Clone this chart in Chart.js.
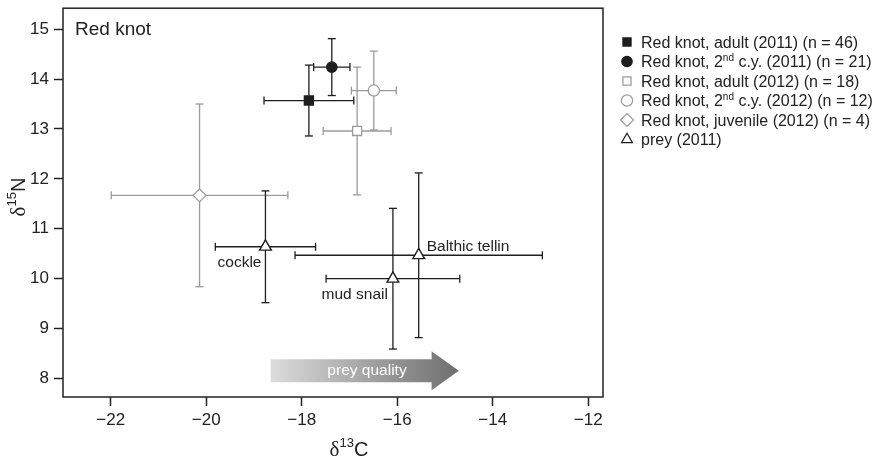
<!DOCTYPE html>
<html lang="en">
<head>
<meta charset="UTF-8">
<title>Red knot - stable isotopes</title>
<script src="https://cdn.jsdelivr.net/npm/chart.js@4"></script>
<style>
    html, body { margin: 0; padding: 0; background: #fff; }
    #wrap { position: relative; width: 875px; height: 460px; }
</style>
</head>
<body>
<div id="wrap"><canvas id="chart" width="875" height="460"></canvas></div>
<script>
// values (mean +/- SD)
const knotLabels = [
    'Red knot, adult (2011) (n = 46)',
    'Red knot, 2nd c.y. (2011) (n = 21)',
    'Red knot, adult (2012) (n = 18)',
    'Red knot, 2nd c.y. (2012) (n = 12)',
    'Red knot, juvenile (2012) (n = 4)'
];
const knotC = [-17.85, -17.37, -16.84, -16.49, -20.14];
const knotCsd = [0.94, 0.38, 0.71, 0.47, 1.85];
const knotN = [13.57, 14.24, 12.96, 13.77, 11.67];
const knotNsd = [0.71, 0.57, 1.28, 0.79, 1.83];

const preyLabel = 'prey (2011)';
const preyNames = ['cockle', 'Balthic tellin', 'mud snail'];
const preyC = [-18.76, -15.55, -16.09];
const preyCsd = [1.05, 2.59, 1.40];
const preyN = [10.64, 10.47, 10.00];
const preyNsd = [1.12, 1.65, 1.41];

const xTicks = [-22, -20, -18, -16, -14, -12];
const yTicks = [8, 9, 10, 11, 12, 13, 14, 15];

const FONT = "'Liberation Sans', Arial, sans-serif";
const BLACK = '#1e1e1e';
const GREY = '#9b9b9b';

const knotStyles = [
    { pointStyle: 'rect', radius: 6.4, fill: BLACK, stroke: BLACK },
    { pointStyle: 'circle', radius: 5.2, fill: BLACK, stroke: BLACK },
    { pointStyle: 'rect', radius: 6.4, fill: '#fff', stroke: GREY },
    { pointStyle: 'circle', radius: 5.6, fill: '#fff', stroke: GREY },
    { pointStyle: 'rectRot', radius: 6.5, fill: '#fff', stroke: GREY }
];
const preyStyle = { pointStyle: 'triangle', radius: 6.8, fill: '#fff', stroke: BLACK };

const datasets = knotLabels.map((label, i) => ({
    label: label,
    data: [{ x: knotC[i], y: knotN[i], xErr: knotCsd[i], yErr: knotNsd[i] }],
    pointStyle: knotStyles[i].pointStyle,
    pointRadius: knotStyles[i].radius,
    backgroundColor: knotStyles[i].fill,
    borderColor: knotStyles[i].stroke,
    borderWidth: 1.3,
    barColor: knotStyles[i].stroke
}));
datasets.push({
    label: preyLabel,
    data: preyC.map((c, i) => ({ x: c, y: preyN[i], xErr: preyCsd[i], yErr: preyNsd[i] })),
    pointStyle: preyStyle.pointStyle,
    pointRadius: preyStyle.radius,
    backgroundColor: preyStyle.fill,
    borderColor: preyStyle.stroke,
    borderWidth: 1.4,
    barColor: BLACK
});
// draw grey first so black bars sit on top
const order = [4, 3, 2, 5, 0, 1];
const sorted = order.map(i => datasets[i]);

function fmt(v) {
    return v < 0 ? '\u2212' + Math.abs(v) : String(v);
}

function line(ctx, x1, y1, x2, y2) {
    ctx.beginPath();
    ctx.moveTo(x1, y1);
    ctx.lineTo(x2, y2);
    ctx.stroke();
}

const errorBars = {
    id: 'errorBars',
    beforeDatasetsDraw(chart) {
        const { ctx, scales: { x, y } } = chart;
        const cap = 4;
        ctx.save();
        ctx.lineWidth = 1.3;
        chart.data.datasets.forEach(ds => {
            ctx.strokeStyle = ds.barColor;
            ds.data.forEach(p => {
                const px = x.getPixelForValue(p.x);
                const py = y.getPixelForValue(p.y);
                const xl = x.getPixelForValue(p.x - p.xErr);
                const xr = x.getPixelForValue(p.x + p.xErr);
                const yt = y.getPixelForValue(p.y + p.yErr);
                const yb = y.getPixelForValue(p.y - p.yErr);
                line(ctx, xl, py, xr, py);
                line(ctx, xl, py - cap, xl, py + cap);
                line(ctx, xr, py - cap, xr, py + cap);
                line(ctx, px, yt, px, yb);
                line(ctx, px - cap, yt, px + cap, yt);
                line(ctx, px - cap, yb, px + cap, yb);
            });
        });
        ctx.restore();
    }
};

// text with "2nd" superscript
function richText(ctx, text, x, y, size) {
    const idx = text.indexOf('2nd');
    ctx.font = size + 'px ' + FONT;
    if (idx < 0) {
        ctx.fillText(text, x, y);
        return;
    }
    const a = text.slice(0, idx + 1);
    const b = text.slice(idx + 3);
    ctx.fillText(a, x, y);
    let cx = x + ctx.measureText(a).width;
    ctx.font = Math.round(size * 0.65) + 'px ' + FONT;
    ctx.fillText('nd', cx, y - size * 0.38);
    cx += ctx.measureText('nd').width;
    ctx.font = size + 'px ' + FONT;
    ctx.fillText(b, cx, y);
}

// delta title: serif delta, superscript mass number, element letter
function deltaTitle(ctx, mass, elem, cx, baseline) {
    const parts = [
        { t: '\u03b4', f: "21px 'Liberation Serif', 'Times New Roman', serif", dy: 0 },
        { t: mass, f: '13px ' + FONT, dy: -9 },
        { t: elem, f: '20px ' + FONT, dy: 0 }
    ];
    let w = 0;
    parts.forEach(p => { ctx.font = p.f; p.w = ctx.measureText(p.t).width; w += p.w; });
    let x = cx - w / 2;
    ctx.textAlign = 'left';
    ctx.textBaseline = 'alphabetic';
    parts.forEach(p => {
        ctx.font = p.f;
        ctx.fillText(p.t, x, baseline + p.dy);
        x += p.w;
    });
}

const preyLabelPos = [
    { dx: -4, dy: 20, align: 'right' },
    { dx: 8, dy: -4, align: 'left' },
    { dx: -5, dy: 20, align: 'right' }
];

const decorations = {
    id: 'decorations',
    afterDatasetsDraw(chart) {
        const { ctx, chartArea: a, scales: { x, y } } = chart;
        ctx.save();

        // frame
        ctx.strokeStyle = '#222';
        ctx.lineWidth = 1.5;
        ctx.strokeRect(a.left, a.top, a.right - a.left, a.bottom - a.top);

        ctx.fillStyle = '#222';
        ctx.textBaseline = 'alphabetic';
        ctx.textAlign = 'left';
        ctx.font = '19px ' + FONT;
        ctx.fillText('Red knot', a.left + 12, a.top + 27);

        // prey labels
        ctx.font = '15.5px ' + FONT;
        preyNames.forEach((name, i) => {
            const pos = preyLabelPos[i];
            ctx.textAlign = pos.align;
            ctx.fillText(name, x.getPixelForValue(preyC[i]) + pos.dx, y.getPixelForValue(preyN[i]) + pos.dy);
        });

        // prey quality arrow
        const x0 = x.getPixelForValue(-18.65);
        const x1 = x.getPixelForValue(-15.28);
        const x2 = x.getPixelForValue(-14.71);
        const yc = y.getPixelForValue(8.155);
        const grad = ctx.createLinearGradient(x0, 0, x2, 0);
        grad.addColorStop(0, '#dcdcdc');
        grad.addColorStop(1, '#6e6e6e');
        ctx.fillStyle = grad;
        ctx.beginPath();
        ctx.moveTo(x0, yc - 11.5);
        ctx.lineTo(x1, yc - 11.5);
        ctx.lineTo(x1, yc - 19.5);
        ctx.lineTo(x2, yc);
        ctx.lineTo(x1, yc + 19.5);
        ctx.lineTo(x1, yc + 11.5);
        ctx.lineTo(x0, yc + 11.5);
        ctx.closePath();
        ctx.fill();
        ctx.fillStyle = '#fff';
        ctx.font = '15.5px ' + FONT;
        ctx.textAlign = 'center';
        ctx.textBaseline = 'middle';
        ctx.fillText('prey quality', 367, yc);

        // axis titles
        ctx.fillStyle = '#222';
        deltaTitle(ctx, '13', 'C', 349, 456);
        ctx.save();
        ctx.translate(25, 197);
        ctx.rotate(-Math.PI / 2);
        deltaTitle(ctx, '15', 'N', 0, 0);
        ctx.restore();

        // legend
        const legendItems = knotLabels.map((l, i) => ({ text: l, st: knotStyles[i] }))
            .concat([{ text: preyLabel, st: preyStyle }]);
        const lx = 627, ly = 42, step = 19.5;
        legendItems.forEach((it, i) => {
            const cy = ly + i * step;
            ctx.fillStyle = it.st.fill;
            ctx.strokeStyle = it.st.stroke;
            ctx.lineWidth = 1.2;
            let r = it.st.radius;
            if (it.st.pointStyle === 'rect') r = r * 0.9;
            if (it.st.pointStyle === 'triangle') r = 6.3;
            Chart.helpers.drawPoint(ctx, { pointStyle: it.st.pointStyle, radius: r, rotation: 0, borderWidth: 1.2 }, lx, cy);
            ctx.fillStyle = '#222';
            ctx.textAlign = 'left';
            ctx.textBaseline = 'alphabetic';
            richText(ctx, it.text, lx + 14, cy + 5.7, 16);
        });

        ctx.restore();
    }
};

new Chart(document.getElementById('chart'), {
    type: 'scatter',
    data: { datasets: sorted },
    options: {
        responsive: false,
        animation: false,
        events: [],
        layout: { padding: { left: 0, right: 272, top: 4, bottom: 0 } },
        plugins: { legend: { display: false }, tooltip: { enabled: false } },
        scales: {
            x: {
                type: 'linear',
                min: -23,
                max: -11.69,
                afterBuildTicks: s => { s.ticks = xTicks.map(v => ({ value: v })); },
                afterFit: s => { s.height = 63; s.paddingLeft = 0; s.paddingRight = 0; },
                ticks: {
                    callback: v => fmt(v),
                    font: { family: FONT, size: 17 },
                    color: '#222',
                    padding: 4,
                    maxRotation: 0,
                    autoSkip: false
                },
                grid: { drawOnChartArea: false, tickLength: 9, tickColor: '#222', tickWidth: 1.5 },
                border: { display: false }
            },
            y: {
                type: 'linear',
                min: 7.63,
                max: 15.42,
                afterBuildTicks: s => { s.ticks = yTicks.map(v => ({ value: v })); },
                afterFit: s => { s.width = 63; s.paddingTop = 0; s.paddingBottom = 0; },
                ticks: {
                    callback: v => fmt(v),
                    font: { family: FONT, size: 17 },
                    color: '#222',
                    padding: 5,
                    autoSkip: false
                },
                grid: { drawOnChartArea: false, tickLength: 9, tickColor: '#222', tickWidth: 1.5 },
                border: { display: false }
            }
        }
    },
    plugins: [errorBars, decorations]
});
</script>
</body>
</html>
